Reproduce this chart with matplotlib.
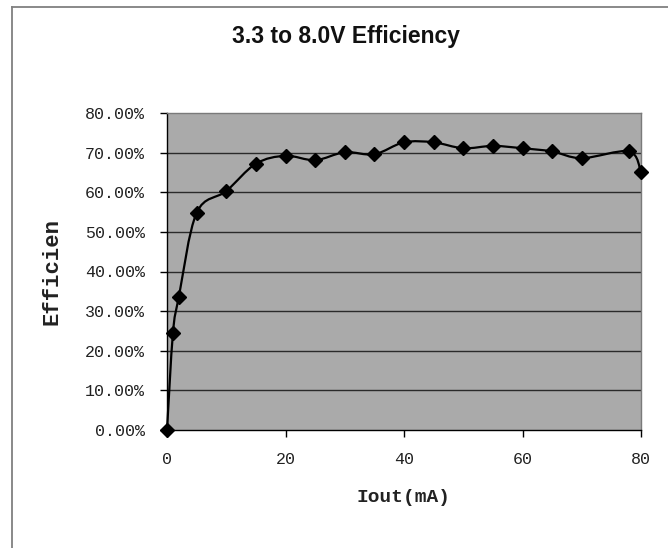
#!/usr/bin/env python3
"""Efficiency curve of the 3.3 V to 8.0 V converter, Excel-style chart."""

import matplotlib
matplotlib.use("Agg")
import matplotlib.pyplot as plt
from matplotlib.path import Path
from matplotlib.patches import PathPatch
from matplotlib.lines import Line2D
from matplotlib.ticker import FuncFormatter

# ---------------------------------------------------------------------------
# Data
# ---------------------------------------------------------------------------
iout_ma = [0, 1, 2, 5, 10, 15, 20, 25, 30, 35, 40, 45, 50, 55, 60, 65, 70, 78, 80]
eff_pct = [0.0, 24.4, 33.6, 54.8, 60.3, 67.2, 69.2, 68.1, 70.1, 69.6, 72.6,
           72.6, 71.1, 71.7, 71.1, 70.3, 68.6, 70.3, 65.0]

x_ticks = [0, 20, 40, 60, 80]
y_ticks = [0, 10, 20, 30, 40, 50, 60, 70, 80]

TITLE = "3.3 to 8.0V Efficiency"
XLABEL = "Iout(mA)"
YLABEL = "Efficien"

MONO = ["Liberation Mono", "DejaVu Sans Mono"]
SANS = ["Liberation Sans", "DejaVu Sans"]


def smooth_path(xs, ys):
    """Excel-like smoothed line: Catmull-Rom segments as cubic Beziers."""
    pts = list(zip(xs, ys))
    verts = [pts[0]]
    codes = [Path.MOVETO]
    n = len(pts)
    for i in range(n - 1):
        p0 = pts[i - 1] if i > 0 else pts[i]
        p1 = pts[i]
        p2 = pts[i + 1]
        p3 = pts[i + 2] if i + 2 < n else pts[i + 1]
        c1 = (p1[0] + (p2[0] - p0[0]) / 6, p1[1] + (p2[1] - p0[1]) / 6)
        c2 = (p2[0] - (p3[0] - p1[0]) / 6, p2[1] - (p3[1] - p1[1]) / 6)
        verts += [c1, c2, p2]
        codes += [Path.CURVE4] * 3
    return Path(verts, codes)


fig = plt.figure(figsize=(6.68, 5.48), dpi=100)
fig.patch.set_facecolor("white")

# outer chart frame (only top and left edges visible in the crop)
fig.add_artist(Line2D([12 / 668, 12 / 668], [0, 1 - 7 / 548],
                      transform=fig.transFigure, color="#808080", lw=1.3))
fig.add_artist(Line2D([12 / 668, 1], [1 - 7 / 548, 1 - 7 / 548],
                      transform=fig.transFigure, color="#808080", lw=1.3))

ax = fig.add_axes([167 / 668, 1 - 430 / 548, (641 - 167) / 668, (430 - 113) / 548])
ax.set_facecolor("#aaaaaa")
ax.set_xlim(0, 80)
ax.set_ylim(0, 80)

# horizontal gridlines
for yv in y_ticks[1:-1]:
    ax.axhline(yv, color="#2a2a2a", lw=1.0, zorder=1)

# smoothed curve + diamond markers
ax.add_patch(PathPatch(smooth_path(iout_ma, eff_pct), facecolor="none",
                       edgecolor="black", lw=1.6, zorder=3, clip_on=False))
ax.plot(iout_ma, eff_pct, linestyle="none", marker="D", markersize=7.5,
        color="black", zorder=4, clip_on=False)

for side in ["top", "right"]:
    ax.spines[side].set_color("#7a7a7a")
    ax.spines[side].set_linewidth(1.0)
for side in ["left", "bottom"]:
    ax.spines[side].set_color("black")
    ax.spines[side].set_linewidth(1.0)

ax.set_xticks(x_ticks)
ax.set_yticks(y_ticks)
ax.yaxis.set_major_formatter(FuncFormatter(lambda v, _: f"{v:.2f}%"))
ax.tick_params(direction="out", length=5, width=1, color="black",
               labelcolor="#222222")
ax.tick_params(axis="x", pad=11)
ax.tick_params(axis="y", pad=11)
for lab in ax.get_xticklabels() + ax.get_yticklabels():
    lab.set_family(MONO)
    lab.set_fontsize(12)

ax.set_xlabel(XLABEL, family=MONO, fontweight="bold", fontsize=14,
              color="#222222", labelpad=16)
ax.set_ylabel(YLABEL, family=MONO, fontweight="bold", fontsize=16,
              color="#222222", labelpad=16)

fig.text(346 / 668, 1 - 37 / 548, TITLE, family=SANS, fontweight="bold",
         fontsize=16.5, ha="center", va="center", color="#111111")

fig.savefig("out.png", dpi=100)
plt.close(fig)
